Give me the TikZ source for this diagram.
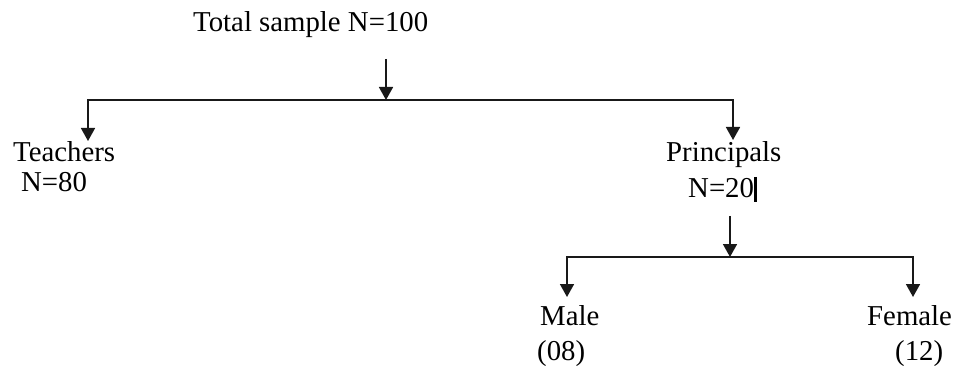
\documentclass[tikz,border=0pt]{standalone}
\usepackage{fontspec}
\setmainfont{Liberation Serif}
\usetikzlibrary{arrows.meta}
\begin{document}
\begin{tikzpicture}[x=1pt,y=-1pt,
  lbl/.style={inner sep=0pt,anchor=base west,font=\fontsize{28.8}{33}\selectfont},
  ln/.style={line width=1.7pt,draw=black!90},
  arr/.style={ln,-{Triangle[width=14pt,length=13pt]}}]
\useasboundingbox (0,0) rectangle (953,366);
% labels
\node[lbl] (title) at (193,32) {Total sample N=100};
\node[lbl] (teach) at (13,162) {Teachers};
\node[lbl] (tn) at (21,192) {N=80};
\node[lbl] (princ) at (666,162) {Principals};
\node[lbl] (pn) at (688,198) {N=20};
\node[lbl] (male) at (540,325) {Male};
\node[lbl] (mn) at (537,360) {(08)};
\node[lbl] (fem) at (867,325) {Female};
\node[lbl] (fn) at (895,360) {(12)};
% coordinates
\coordinate (a1) at (386,59);
\coordinate (j1) at (386,100);
\coordinate (tTip) at (88,141);
\coordinate (pTip) at (733,140);
\coordinate (a2) at (730,216);
\coordinate (j2) at (730,257);
\coordinate (mTip) at (567,297);
\coordinate (fTip) at (913,297);
% connectors
\draw[arr] (a1) -- (j1);
\draw[arr] (j1) -| (tTip);
\draw[arr] (j1) -| (pTip);
\draw[arr] (a2) -- (j2);
\draw[arr] (j2) -| (mTip);
\draw[arr] (j2) -| (fTip);
% cursor bar
\draw[line width=3pt] (755,177) -- (755,202);
\end{tikzpicture}
\end{document}
